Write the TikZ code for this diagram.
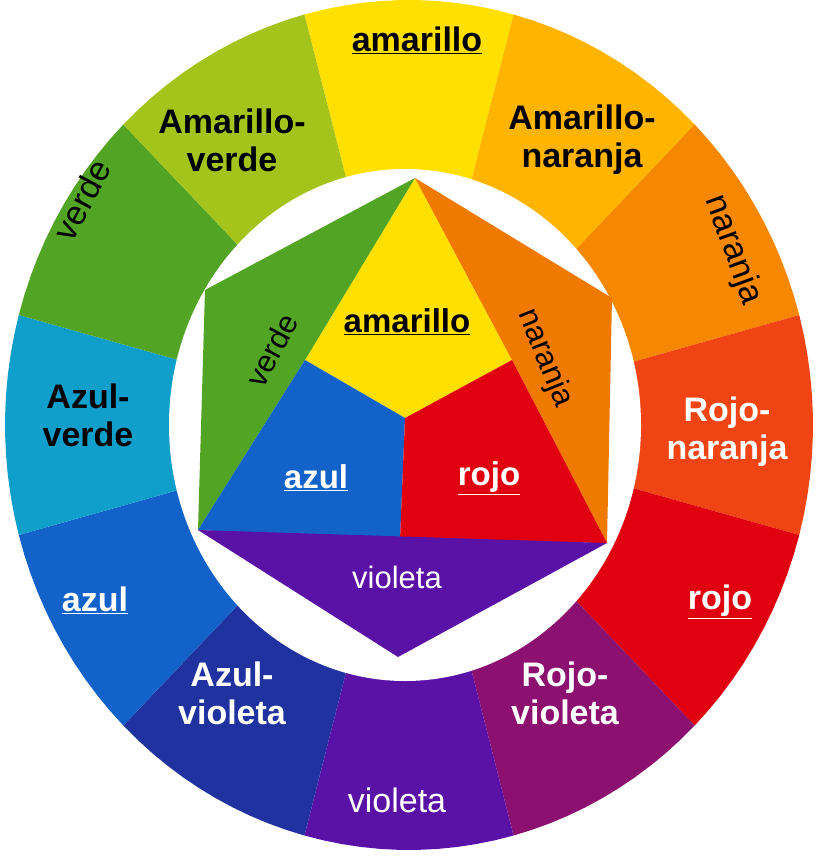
\documentclass[tikz,border=0pt]{standalone}
\usepackage{fontspec}
\setmainfont{Liberation Sans}
\begin{document}
\begin{tikzpicture}[x=1pt,y=-1pt]
\definecolor{cY}{HTML}{FFE000}\definecolor{cYO}{HTML}{FFB400}\definecolor{cO}{HTML}{F58800}
\definecolor{cRO}{HTML}{F04414}\definecolor{cR}{HTML}{E00010}\definecolor{cRV}{HTML}{8C1070}
\definecolor{cV}{HTML}{5A12A6}\definecolor{cBV}{HTML}{2032A0}\definecolor{cB}{HTML}{1262CA}
\definecolor{cBG}{HTML}{109ECA}\definecolor{cG}{HTML}{52A424}\definecolor{cYG}{HTML}{A4C41C}
\definecolor{iO}{HTML}{F07A00}
\tikzset{lb/.style={font=\fontsize{34}{38}\selectfont\bfseries,align=center},
 ln/.style={font=\fontsize{34}{38}\selectfont,align=center},
 il/.style={font=\fontsize{33}{36}\selectfont\bfseries,align=center},
 iln/.style={font=\fontsize{31}{34}\selectfont,align=center}}
\useasboundingbox (0,0) rectangle (817,862);
\fill[white] (0,0) rectangle (817,862);
\foreach \c [count=\i from 0] in {cY,cYO,cO,cRO,cR,cRV,cV,cBV,cB,cBG,cG,cYG}{
 \pgfmathsetmacro\aa{105-30*\i}\pgfmathsetmacro\ab{75-30*\i}
 \fill[\c] (409,425) -- plot[domain=\aa:\ab,samples=12] ({409+404*cos(\x)},{425-425*sin(\x)}) -- cycle;}
\fill[white] (405,425) ellipse [x radius=236,y radius=256];
\coordinate (T) at (415,178); \coordinate (GL) at (205,290); \coordinate (BL) at (198,530);
\coordinate (OR) at (612,298); \coordinate (BR) at (607,543); \coordinate (VB) at (398,657);
\coordinate (YL) at (305,360); \coordinate (YR) at (512,360); \coordinate (C) at (405,418);
\coordinate (D) at (400,540);
\fill[cY] (T) -- (YR) -- (C) -- (YL) -- cycle;
\fill[cG] (T) -- (GL) -- (BL) -- (YL) -- cycle;
\fill[iO] (T) -- (OR) -- (BR) -- (YR) -- cycle;
\fill[cB] (YL) -- (C) -- (D) -- (BL) -- cycle;
\fill[cR] (YR) -- (C) -- (D) -- (BR) -- cycle;
\fill[cV] (BL) -- (BR) -- (VB) -- cycle;
% outer labels
\node[lb] (a1) at (417,40) {\underline{amarillo}};
\node[lb] (a2) at (582,140) {Amarillo-\\naranja};
\node[ln,rotate=-70] (a3) at (733,250) {naranja};
\node[lb,white] (a4) at (727,432) {Rojo-\\naranja};
\node[lb,white] (a5) at (720,602) {\underline{rojo}};
\node[lb,white] (a6) at (565,693) {Rojo-\\violeta};
\node[ln,white] (a7) at (397,800) {violeta};
\node[lb,white] (a8) at (232,693) {Azul-\\violeta};
\node[lb,white] (a9) at (95,600) {\underline{azul}};
\node[lb] (a10) at (88,415) {Azul-\\verde};
\node[ln,rotate=62] (a11) at (82,200) {verde};
\node[lb] (a12) at (232,140) {Amarillo-\\verde};
% inner labels
\node[il] (b1) at (407,322) {\underline{amarillo}};
\node[iln,rotate=62] (b2) at (272,350) {verde};
\node[iln,rotate=-68] (b3) at (545,358) {naranja};
\node[il,white] (b4) at (316,478) {\underline{azul}};
\node[il,white] (b5) at (489,478) {\underline{rojo}};
\node[iln,white] (b6) at (397,577) {violeta};
\end{tikzpicture}
\end{document}
